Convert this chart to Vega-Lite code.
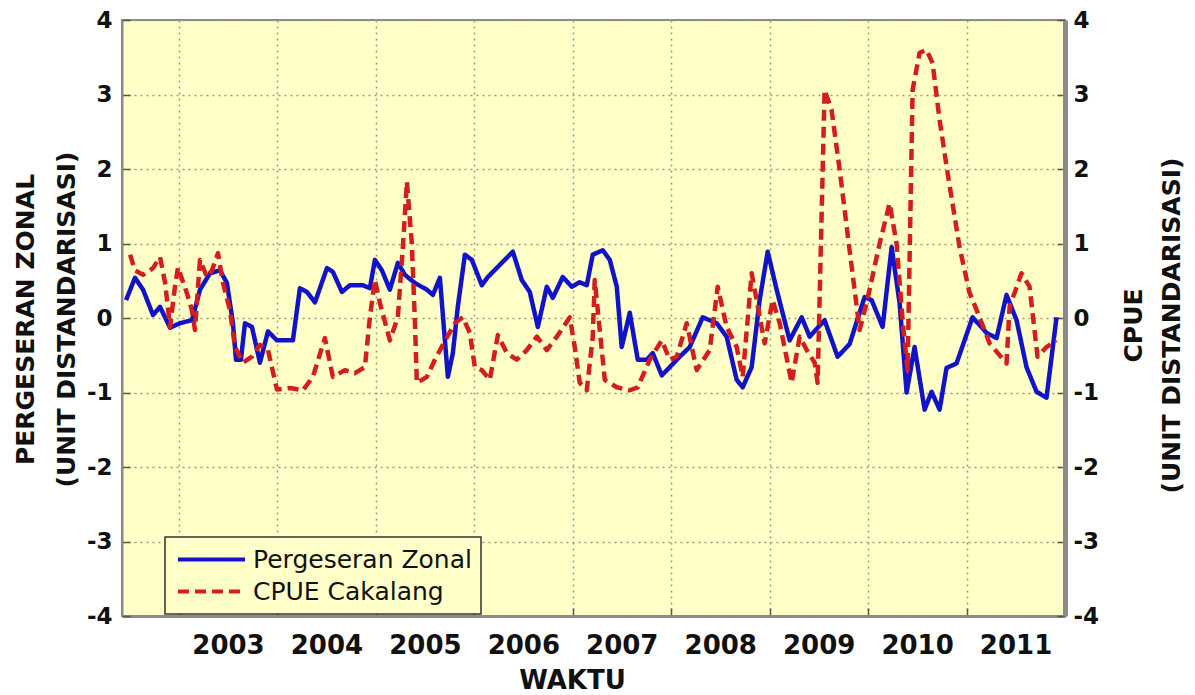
{
  "$schema": "https://vega.github.io/schema/vega-lite/v6.json",
  "width": 943,
  "height": 596,
  "autosize": {"type": "none"},
  "padding": {"left": 122, "top": 20, "right": 130, "bottom": 79},
  "background": "white",
  "config": {
    "view": {"fill": "#FFFFC8", "stroke": "#8a8a8a", "strokeWidth": 2},
    "font": "DejaVu Sans",
    "axis": {
      "labelFont": "DejaVu Sans", "labelFontWeight": "bold", "labelColor": "#111",
      "titleFont": "DejaVu Sans", "titleFontWeight": "bold", "titleColor": "#111",
      "gridColor": "#9a9a8a", "gridDash": [2, 4], "gridWidth": 1.5, "gridOpacity": 1,
      "domainColor": "#8a8a8a", "tickColor": "#555", "tickWidth": 1.5
    },
    "legend": {
      "orient": "none", "legendX": 43, "legendY": 517,
      "direction": "vertical", "symbolType": "M-3,0H3", "symbolSize": 500,
      "symbolStrokeWidth": 4, "symbolOffset": 24, "labelOffset": 28, "labelLimit": 400,
      "labelFontSize": 25, "labelFont": "DejaVu Sans",
      "labelColor": "#111", "fillColor": "#FFFFC8", "strokeColor": "#333", "strokeWidth": 1.5,
      "padding": 9, "rowPadding": 5
    }
  },
  "data": {
    "values": [
      {"s": "Pergeseran Zonal", "t": 2002.462, "v": 0.24},
      {"s": "Pergeseran Zonal", "t": 2002.553, "v": 0.54},
      {"s": "Pergeseran Zonal", "t": 2002.635, "v": 0.38},
      {"s": "Pergeseran Zonal", "t": 2002.736, "v": 0.04},
      {"s": "Pergeseran Zonal", "t": 2002.807, "v": 0.15},
      {"s": "Pergeseran Zonal", "t": 2002.909, "v": -0.13},
      {"s": "Pergeseran Zonal", "t": 2003.010, "v": -0.07},
      {"s": "Pergeseran Zonal", "t": 2003.132, "v": -0.03},
      {"s": "Pergeseran Zonal", "t": 2003.213, "v": 0.38},
      {"s": "Pergeseran Zonal", "t": 2003.315, "v": 0.60},
      {"s": "Pergeseran Zonal", "t": 2003.416, "v": 0.64},
      {"s": "Pergeseran Zonal", "t": 2003.487, "v": 0.47},
      {"s": "Pergeseran Zonal", "t": 2003.548, "v": -0.07},
      {"s": "Pergeseran Zonal", "t": 2003.579, "v": -0.56},
      {"s": "Pergeseran Zonal", "t": 2003.629, "v": -0.56},
      {"s": "Pergeseran Zonal", "t": 2003.670, "v": -0.07},
      {"s": "Pergeseran Zonal", "t": 2003.741, "v": -0.12},
      {"s": "Pergeseran Zonal", "t": 2003.822, "v": -0.60},
      {"s": "Pergeseran Zonal", "t": 2003.904, "v": -0.18},
      {"s": "Pergeseran Zonal", "t": 2003.995, "v": -0.30},
      {"s": "Pergeseran Zonal", "t": 2004.157, "v": -0.30},
      {"s": "Pergeseran Zonal", "t": 2004.228, "v": 0.40},
      {"s": "Pergeseran Zonal", "t": 2004.299, "v": 0.35},
      {"s": "Pergeseran Zonal", "t": 2004.381, "v": 0.21},
      {"s": "Pergeseran Zonal", "t": 2004.503, "v": 0.67},
      {"s": "Pergeseran Zonal", "t": 2004.563, "v": 0.62},
      {"s": "Pergeseran Zonal", "t": 2004.655, "v": 0.35},
      {"s": "Pergeseran Zonal", "t": 2004.736, "v": 0.44},
      {"s": "Pergeseran Zonal", "t": 2004.868, "v": 0.44},
      {"s": "Pergeseran Zonal", "t": 2004.939, "v": 0.40},
      {"s": "Pergeseran Zonal", "t": 2004.990, "v": 0.78},
      {"s": "Pergeseran Zonal", "t": 2005.061, "v": 0.64},
      {"s": "Pergeseran Zonal", "t": 2005.142, "v": 0.38},
      {"s": "Pergeseran Zonal", "t": 2005.223, "v": 0.74},
      {"s": "Pergeseran Zonal", "t": 2005.294, "v": 0.58},
      {"s": "Pergeseran Zonal", "t": 2005.396, "v": 0.47},
      {"s": "Pergeseran Zonal", "t": 2005.518, "v": 0.38},
      {"s": "Pergeseran Zonal", "t": 2005.579, "v": 0.31},
      {"s": "Pergeseran Zonal", "t": 2005.650, "v": 0.54},
      {"s": "Pergeseran Zonal", "t": 2005.731, "v": -0.79},
      {"s": "Pergeseran Zonal", "t": 2005.782, "v": -0.47},
      {"s": "Pergeseran Zonal", "t": 2005.832, "v": 0.15},
      {"s": "Pergeseran Zonal", "t": 2005.904, "v": 0.85},
      {"s": "Pergeseran Zonal", "t": 2005.975, "v": 0.78},
      {"s": "Pergeseran Zonal", "t": 2006.076, "v": 0.44},
      {"s": "Pergeseran Zonal", "t": 2006.137, "v": 0.55},
      {"s": "Pergeseran Zonal", "t": 2006.391, "v": 0.89},
      {"s": "Pergeseran Zonal", "t": 2006.482, "v": 0.51},
      {"s": "Pergeseran Zonal", "t": 2006.563, "v": 0.35},
      {"s": "Pergeseran Zonal", "t": 2006.645, "v": -0.12},
      {"s": "Pergeseran Zonal", "t": 2006.736, "v": 0.42},
      {"s": "Pergeseran Zonal", "t": 2006.797, "v": 0.27},
      {"s": "Pergeseran Zonal", "t": 2006.898, "v": 0.55},
      {"s": "Pergeseran Zonal", "t": 2006.990, "v": 0.42},
      {"s": "Pergeseran Zonal", "t": 2007.071, "v": 0.48},
      {"s": "Pergeseran Zonal", "t": 2007.142, "v": 0.44},
      {"s": "Pergeseran Zonal", "t": 2007.203, "v": 0.85},
      {"s": "Pergeseran Zonal", "t": 2007.305, "v": 0.91},
      {"s": "Pergeseran Zonal", "t": 2007.376, "v": 0.78},
      {"s": "Pergeseran Zonal", "t": 2007.447, "v": 0.42},
      {"s": "Pergeseran Zonal", "t": 2007.497, "v": -0.39},
      {"s": "Pergeseran Zonal", "t": 2007.579, "v": 0.07},
      {"s": "Pergeseran Zonal", "t": 2007.660, "v": -0.56},
      {"s": "Pergeseran Zonal", "t": 2007.751, "v": -0.56},
      {"s": "Pergeseran Zonal", "t": 2007.812, "v": -0.47},
      {"s": "Pergeseran Zonal", "t": 2007.904, "v": -0.77},
      {"s": "Pergeseran Zonal", "t": 2007.985, "v": -0.66},
      {"s": "Pergeseran Zonal", "t": 2008.086, "v": -0.52},
      {"s": "Pergeseran Zonal", "t": 2008.188, "v": -0.39},
      {"s": "Pergeseran Zonal", "t": 2008.320, "v": 0.01},
      {"s": "Pergeseran Zonal", "t": 2008.462, "v": -0.07},
      {"s": "Pergeseran Zonal", "t": 2008.563, "v": -0.25},
      {"s": "Pergeseran Zonal", "t": 2008.665, "v": -0.83},
      {"s": "Pergeseran Zonal", "t": 2008.726, "v": -0.93},
      {"s": "Pergeseran Zonal", "t": 2008.817, "v": -0.66},
      {"s": "Pergeseran Zonal", "t": 2008.898, "v": 0.24},
      {"s": "Pergeseran Zonal", "t": 2008.980, "v": 0.89},
      {"s": "Pergeseran Zonal", "t": 2009.071, "v": 0.38},
      {"s": "Pergeseran Zonal", "t": 2009.203, "v": -0.30},
      {"s": "Pergeseran Zonal", "t": 2009.325, "v": 0.01},
      {"s": "Pergeseran Zonal", "t": 2009.406, "v": -0.25},
      {"s": "Pergeseran Zonal", "t": 2009.558, "v": -0.03},
      {"s": "Pergeseran Zonal", "t": 2009.690, "v": -0.52},
      {"s": "Pergeseran Zonal", "t": 2009.812, "v": -0.35},
      {"s": "Pergeseran Zonal", "t": 2009.964, "v": 0.28},
      {"s": "Pergeseran Zonal", "t": 2010.036, "v": 0.24},
      {"s": "Pergeseran Zonal", "t": 2010.147, "v": -0.12},
      {"s": "Pergeseran Zonal", "t": 2010.239, "v": 0.95},
      {"s": "Pergeseran Zonal", "t": 2010.320, "v": 0.20},
      {"s": "Pergeseran Zonal", "t": 2010.391, "v": -1.00},
      {"s": "Pergeseran Zonal", "t": 2010.472, "v": -0.39},
      {"s": "Pergeseran Zonal", "t": 2010.574, "v": -1.23},
      {"s": "Pergeseran Zonal", "t": 2010.645, "v": -0.99},
      {"s": "Pergeseran Zonal", "t": 2010.726, "v": -1.23},
      {"s": "Pergeseran Zonal", "t": 2010.797, "v": -0.67},
      {"s": "Pergeseran Zonal", "t": 2010.898, "v": -0.61},
      {"s": "Pergeseran Zonal", "t": 2011.061, "v": 0.01},
      {"s": "Pergeseran Zonal", "t": 2011.203, "v": -0.20},
      {"s": "Pergeseran Zonal", "t": 2011.305, "v": -0.27},
      {"s": "Pergeseran Zonal", "t": 2011.406, "v": 0.31},
      {"s": "Pergeseran Zonal", "t": 2011.508, "v": -0.03},
      {"s": "Pergeseran Zonal", "t": 2011.609, "v": -0.66},
      {"s": "Pergeseran Zonal", "t": 2011.711, "v": -0.99},
      {"s": "Pergeseran Zonal", "t": 2011.812, "v": -1.07},
      {"s": "Pergeseran Zonal", "t": 2011.914, "v": 0.01},

      {"s": "CPUE Cakalang", "t": 2002.503, "v": 0.85},
      {"s": "CPUE Cakalang", "t": 2002.553, "v": 0.64},
      {"s": "CPUE Cakalang", "t": 2002.635, "v": 0.58},
      {"s": "CPUE Cakalang", "t": 2002.736, "v": 0.67},
      {"s": "CPUE Cakalang", "t": 2002.807, "v": 0.82},
      {"s": "CPUE Cakalang", "t": 2002.858, "v": 0.48},
      {"s": "CPUE Cakalang", "t": 2002.909, "v": -0.12},
      {"s": "CPUE Cakalang", "t": 2002.959, "v": 0.42},
      {"s": "CPUE Cakalang", "t": 2002.990, "v": 0.68},
      {"s": "CPUE Cakalang", "t": 2003.081, "v": 0.33},
      {"s": "CPUE Cakalang", "t": 2003.132, "v": 0.10},
      {"s": "CPUE Cakalang", "t": 2003.162, "v": -0.16},
      {"s": "CPUE Cakalang", "t": 2003.213, "v": 0.78},
      {"s": "CPUE Cakalang", "t": 2003.284, "v": 0.55},
      {"s": "CPUE Cakalang", "t": 2003.335, "v": 0.64},
      {"s": "CPUE Cakalang", "t": 2003.396, "v": 0.87},
      {"s": "CPUE Cakalang", "t": 2003.447, "v": 0.47},
      {"s": "CPUE Cakalang", "t": 2003.518, "v": 0.10},
      {"s": "CPUE Cakalang", "t": 2003.569, "v": -0.39},
      {"s": "CPUE Cakalang", "t": 2003.650, "v": -0.60},
      {"s": "CPUE Cakalang", "t": 2003.741, "v": -0.52},
      {"s": "CPUE Cakalang", "t": 2003.822, "v": -0.36},
      {"s": "CPUE Cakalang", "t": 2003.904, "v": -0.43},
      {"s": "CPUE Cakalang", "t": 2003.995, "v": -0.96},
      {"s": "CPUE Cakalang", "t": 2004.127, "v": -0.94},
      {"s": "CPUE Cakalang", "t": 2004.259, "v": -0.97},
      {"s": "CPUE Cakalang", "t": 2004.360, "v": -0.79},
      {"s": "CPUE Cakalang", "t": 2004.482, "v": -0.27},
      {"s": "CPUE Cakalang", "t": 2004.563, "v": -0.79},
      {"s": "CPUE Cakalang", "t": 2004.685, "v": -0.70},
      {"s": "CPUE Cakalang", "t": 2004.787, "v": -0.74},
      {"s": "CPUE Cakalang", "t": 2004.888, "v": -0.66},
      {"s": "CPUE Cakalang", "t": 2004.939, "v": 0.01},
      {"s": "CPUE Cakalang", "t": 2004.990, "v": 0.51},
      {"s": "CPUE Cakalang", "t": 2005.041, "v": 0.20},
      {"s": "CPUE Cakalang", "t": 2005.142, "v": -0.30},
      {"s": "CPUE Cakalang", "t": 2005.223, "v": 0.01},
      {"s": "CPUE Cakalang", "t": 2005.274, "v": 0.95},
      {"s": "CPUE Cakalang", "t": 2005.315, "v": 1.83},
      {"s": "CPUE Cakalang", "t": 2005.365, "v": 1.00},
      {"s": "CPUE Cakalang", "t": 2005.396, "v": -0.03},
      {"s": "CPUE Cakalang", "t": 2005.416, "v": -0.87},
      {"s": "CPUE Cakalang", "t": 2005.518, "v": -0.79},
      {"s": "CPUE Cakalang", "t": 2005.599, "v": -0.56},
      {"s": "CPUE Cakalang", "t": 2005.680, "v": -0.36},
      {"s": "CPUE Cakalang", "t": 2005.802, "v": -0.07},
      {"s": "CPUE Cakalang", "t": 2005.883, "v": 0.01},
      {"s": "CPUE Cakalang", "t": 2005.954, "v": -0.20},
      {"s": "CPUE Cakalang", "t": 2006.005, "v": -0.66},
      {"s": "CPUE Cakalang", "t": 2006.076, "v": -0.70},
      {"s": "CPUE Cakalang", "t": 2006.157, "v": -0.83},
      {"s": "CPUE Cakalang", "t": 2006.239, "v": -0.23},
      {"s": "CPUE Cakalang", "t": 2006.330, "v": -0.47},
      {"s": "CPUE Cakalang", "t": 2006.431, "v": -0.56},
      {"s": "CPUE Cakalang", "t": 2006.533, "v": -0.43},
      {"s": "CPUE Cakalang", "t": 2006.635, "v": -0.25},
      {"s": "CPUE Cakalang", "t": 2006.736, "v": -0.43},
      {"s": "CPUE Cakalang", "t": 2006.838, "v": -0.25},
      {"s": "CPUE Cakalang", "t": 2006.970, "v": 0.01},
      {"s": "CPUE Cakalang", "t": 2007.020, "v": -0.39},
      {"s": "CPUE Cakalang", "t": 2007.071, "v": -0.87},
      {"s": "CPUE Cakalang", "t": 2007.142, "v": -0.97},
      {"s": "CPUE Cakalang", "t": 2007.203, "v": -0.25},
      {"s": "CPUE Cakalang", "t": 2007.223, "v": 0.51},
      {"s": "CPUE Cakalang", "t": 2007.325, "v": -0.83},
      {"s": "CPUE Cakalang", "t": 2007.447, "v": -0.93},
      {"s": "CPUE Cakalang", "t": 2007.579, "v": -0.97},
      {"s": "CPUE Cakalang", "t": 2007.660, "v": -0.93},
      {"s": "CPUE Cakalang", "t": 2007.782, "v": -0.56},
      {"s": "CPUE Cakalang", "t": 2007.904, "v": -0.30},
      {"s": "CPUE Cakalang", "t": 2007.985, "v": -0.56},
      {"s": "CPUE Cakalang", "t": 2008.056, "v": -0.52},
      {"s": "CPUE Cakalang", "t": 2008.157, "v": -0.07},
      {"s": "CPUE Cakalang", "t": 2008.259, "v": -0.70},
      {"s": "CPUE Cakalang", "t": 2008.391, "v": -0.43},
      {"s": "CPUE Cakalang", "t": 2008.472, "v": 0.42},
      {"s": "CPUE Cakalang", "t": 2008.563, "v": -0.12},
      {"s": "CPUE Cakalang", "t": 2008.665, "v": -0.39},
      {"s": "CPUE Cakalang", "t": 2008.726, "v": -0.79},
      {"s": "CPUE Cakalang", "t": 2008.817, "v": 0.60},
      {"s": "CPUE Cakalang", "t": 2008.949, "v": -0.34},
      {"s": "CPUE Cakalang", "t": 2009.030, "v": 0.24},
      {"s": "CPUE Cakalang", "t": 2009.102, "v": -0.07},
      {"s": "CPUE Cakalang", "t": 2009.223, "v": -0.87},
      {"s": "CPUE Cakalang", "t": 2009.305, "v": -0.25},
      {"s": "CPUE Cakalang", "t": 2009.376, "v": -0.43},
      {"s": "CPUE Cakalang", "t": 2009.457, "v": -0.60},
      {"s": "CPUE Cakalang", "t": 2009.487, "v": -0.87},
      {"s": "CPUE Cakalang", "t": 2009.558, "v": 3.06},
      {"s": "CPUE Cakalang", "t": 2009.629, "v": 2.79},
      {"s": "CPUE Cakalang", "t": 2009.711, "v": 1.99},
      {"s": "CPUE Cakalang", "t": 2009.812, "v": 0.91},
      {"s": "CPUE Cakalang", "t": 2009.914, "v": -0.16},
      {"s": "CPUE Cakalang", "t": 2009.985, "v": 0.20},
      {"s": "CPUE Cakalang", "t": 2010.117, "v": 1.00},
      {"s": "CPUE Cakalang", "t": 2010.218, "v": 1.54},
      {"s": "CPUE Cakalang", "t": 2010.289, "v": 1.00},
      {"s": "CPUE Cakalang", "t": 2010.350, "v": -0.03},
      {"s": "CPUE Cakalang", "t": 2010.401, "v": -0.70},
      {"s": "CPUE Cakalang", "t": 2010.452, "v": 3.06},
      {"s": "CPUE Cakalang", "t": 2010.523, "v": 3.56},
      {"s": "CPUE Cakalang", "t": 2010.594, "v": 3.60},
      {"s": "CPUE Cakalang", "t": 2010.655, "v": 3.42},
      {"s": "CPUE Cakalang", "t": 2010.726, "v": 2.66},
      {"s": "CPUE Cakalang", "t": 2010.807, "v": 1.95},
      {"s": "CPUE Cakalang", "t": 2010.929, "v": 0.95},
      {"s": "CPUE Cakalang", "t": 2011.030, "v": 0.34},
      {"s": "CPUE Cakalang", "t": 2011.132, "v": 0.01},
      {"s": "CPUE Cakalang", "t": 2011.234, "v": -0.34},
      {"s": "CPUE Cakalang", "t": 2011.406, "v": -0.61},
      {"s": "CPUE Cakalang", "t": 2011.437, "v": 0.15},
      {"s": "CPUE Cakalang", "t": 2011.558, "v": 0.60},
      {"s": "CPUE Cakalang", "t": 2011.640, "v": 0.42},
      {"s": "CPUE Cakalang", "t": 2011.721, "v": -0.52},
      {"s": "CPUE Cakalang", "t": 2011.812, "v": -0.39},
      {"s": "CPUE Cakalang", "t": 2011.914, "v": -0.30}
    ]
  },
  "layer": [
    {
      "transform": [{"filter": "datum.s === 'Pergeseran Zonal'"}],
      "mark": {"type": "line", "strokeWidth": 4.5, "strokeJoin": "round"},
      "encoding": {
        "x": {
          "field": "t", "type": "quantitative",
          "scale": {"domain": [2002.421, 2012], "nice": false, "zero": false},
          "axis": {
            "values": [2003, 2004, 2005, 2006, 2007, 2008, 2009, 2010, 2011],
            "grid": true, "labelOffset": 49, "labelFontSize": 26,
            "labelBaseline": "alphabetic", "labelPadding": 45, "ticks": true, "tickSize": -8,
            "labelFlush": false, "labelOverlap": false, "labelBound": false,
            "labelExpr": "toString(datum.value)", "domainWidth": 3,
            "title": "WAKTU", "titleFontSize": 26, "titleX": 450, "titleY": 72,
            "titleBaseline": "alphabetic", "titleAlign": "center"
          }
        },
        "y": {
          "field": "v", "type": "quantitative",
          "scale": {"domain": [-4, 4], "nice": false},
          "axis": {
            "orient": "left", "values": [-4, -3, -2, -1, 0, 1, 2, 3, 4],
            "grid": true, "labelFontSize": 23, "labelPadding": 18, "ticks": true, "tickSize": -8,
            "labelExpr": "toString(datum.value)", "labelBaseline": "middle",
            "title": ["PERGESERAN ZONAL", "(UNIT DISTANDARISASI)"],
            "titleFontSize": 25, "titleLineHeight": 41, "titleAngle": 270,
            "titleBaseline": "middle", "titleAlign": "center", "titleX": -97, "titleY": 299,
            "domainWidth": 2
          }
        },
        "color": {
          "field": "s", "type": "nominal", "title": null,
          "scale": {"domain": ["Pergeseran Zonal", "CPUE Cakalang"], "range": ["#1212C8", "#D41E1E"]}
        },
        "strokeDash": {
          "field": "s", "type": "nominal", "title": null,
          "scale": {"domain": ["Pergeseran Zonal", "CPUE Cakalang"], "range": [[1, 0], [11, 6]]}
        }
      }
    },
    {
      "transform": [{"filter": "datum.s === 'CPUE Cakalang'"}],
      "mark": {"type": "line", "strokeWidth": 4.5, "strokeJoin": "round"},
      "encoding": {
        "x": {"field": "t", "type": "quantitative"},
        "y": {
          "field": "v", "type": "quantitative",
          "scale": {"domain": [-4, 4], "nice": false},
          "axis": {
            "orient": "right", "values": [-4, -3, -2, -1, 0, 1, 2, 3, 4],
            "grid": false, "labelFontSize": 23, "labelPadding": 16, "ticks": true, "tickSize": -8,
            "labelExpr": "toString(datum.value)", "labelBaseline": "middle",
            "title": ["CPUE", "(UNIT DISTANDARISASI)"],
            "titleFontSize": 25, "titleLineHeight": 38, "titleAngle": 270,
            "titleBaseline": "middle", "titleAlign": "center", "titleX": 68, "titleY": 305,
            "domainWidth": 5
          }
        },
        "color": {"field": "s", "type": "nominal", "title": null},
        "strokeDash": {"field": "s", "type": "nominal", "title": null}
      }
    }
  ],
  "resolve": {"scale": {"y": "independent"}}
}
